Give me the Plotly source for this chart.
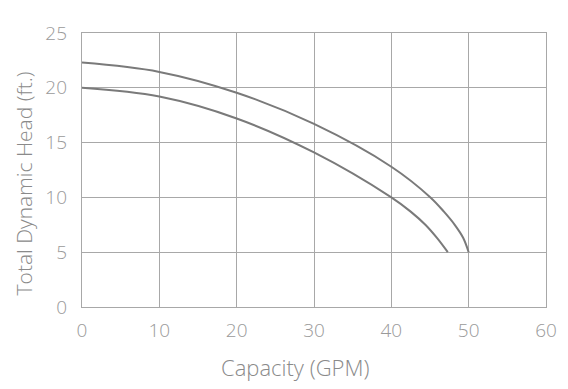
import plotly.graph_objects as go

# Upper curve (GPM, ft)
upper_gpm = [0, 10, 20, 30, 40, 45.06, 46.8, 48.2, 49.3, 50]
upper_head = [22.3, 21.45, 19.55, 16.7, 12.8, 10.0, 8.7, 7.5, 6.3, 5.0]

# Lower curve
lower_gpm = [0, 10, 20, 30, 40, 42.5, 44.4, 45.9, 47.3]
lower_head = [20.0, 19.2, 17.2, 14.1, 10.0, 8.7, 7.5, 6.3, 5.0]

x_ticks = [0, 10, 20, 30, 40, 50, 60]
y_ticks = [0, 5, 10, 15, 20, 25]

line_color = "#7a7a7a"
grid_color = "#a8a8a8"
text_color = "#9a9a9a"
font_family = "Open Sans, Roboto, Liberation Sans, sans-serif"

fig = go.Figure()
for xs, ys in [(upper_gpm, upper_head), (lower_gpm, lower_head)]:
    fig.add_trace(go.Scatter(x=xs, y=ys, mode="lines",
                             line=dict(color=line_color, width=2, shape="spline", smoothing=1.0),
                             hoverinfo="skip", showlegend=False))

fig.update_layout(
    width=568, height=389,
    margin=dict(l=74, r=30, t=19, b=90),
    paper_bgcolor="white", plot_bgcolor="white",
    font=dict(family=font_family, color=text_color, size=19, weight=300),
    showlegend=False,
    xaxis=dict(range=[0, 60], tickvals=x_ticks, ticktext=[str(v) for v in x_ticks],
               showgrid=True, gridcolor=grid_color, gridwidth=1.3,
               showline=True, linecolor=grid_color, linewidth=1.3, mirror=True,
               zeroline=False, ticks="", ticklabelstandoff=6,
               tickfont=dict(size=19, color=text_color, weight=300)),
    yaxis=dict(range=[0, 25], tickvals=y_ticks, ticktext=[str(v) for v in y_ticks],
               showgrid=True, gridcolor=grid_color, gridwidth=1.3,
               showline=True, linecolor=grid_color, linewidth=1.3, mirror=True,
               zeroline=False, ticks="", ticklabelstandoff=10,
               tickfont=dict(size=19, color=text_color, weight=300)),
    annotations=[
        dict(text="Capacity (GPM)", xref="paper", yref="paper", x=0.459, y=0,
             yshift=-60, xanchor="center", yanchor="middle", showarrow=False,
             font=dict(size=22, color="#8a8a8a", family=font_family, weight=300)),
        dict(text="Total Dynamic Head (ft.)", xref="paper", yref="paper", x=0, xshift=-58,
             y=0.451, xanchor="center", yanchor="middle", textangle=-90, showarrow=False,
             font=dict(size=21, color="#8a8a8a", family=font_family, weight=300)),
    ],
)

fig.write_html("out.html")
